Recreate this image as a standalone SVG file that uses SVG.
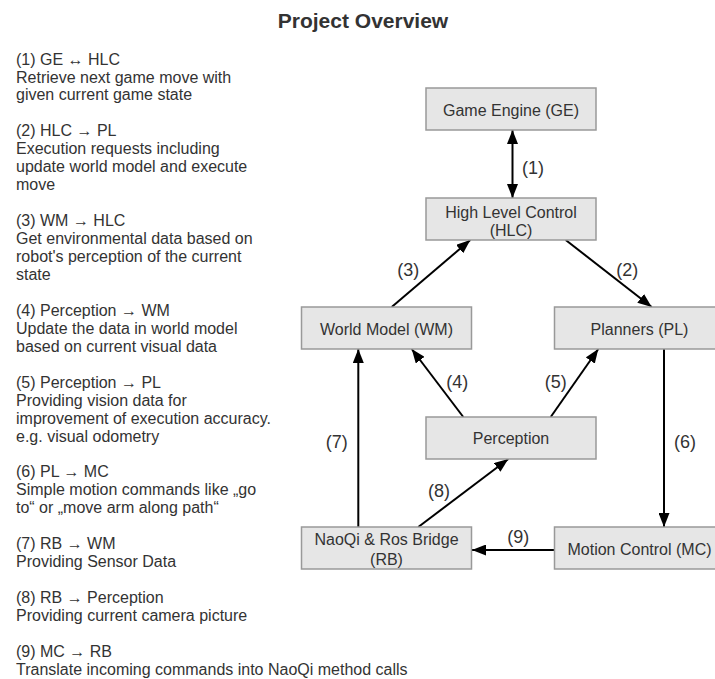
<svg xmlns="http://www.w3.org/2000/svg" width="715" height="679" viewBox="0 0 715 679">
  <style>
    text { font-family: "Liberation Sans", Arial, sans-serif; fill: #333333; }
    .title { font-size: 21px; font-weight: bold; text-anchor: middle; }
    .note { font-size: 16px; }
    .node rect { fill: #e6e6e6; stroke: #999999; stroke-width: 1.5; }
    .node text { font-size: 16px; text-anchor: middle; }
    .edge { stroke: #000000; stroke-width: 2; fill: none; }
    .elabel { font-size: 18px; text-anchor: middle; }
  </style>
  <defs>
    <marker id="head" markerUnits="userSpaceOnUse" markerWidth="14" markerHeight="11" refX="14" refY="5.5" orient="auto-start-reverse">
      <path d="M0,0 L14,5.5 L0,11 z" fill="#000000"/>
    </marker>
  </defs>

  <rect width="715" height="679" fill="#ffffff"/>

  <text class="title" x="363" y="28">Project Overview</text>

  <!-- legend of the numbered links -->
  <g id="legend" class="note">
    <text x="16" y="64.5">(1) GE ↔ HLC</text>
    <text x="16" y="82.5">Retrieve next game move with</text>
    <text x="16" y="100.4">given current game state</text>
    <text x="16" y="136.3">(2) HLC → PL</text>
    <text x="16" y="154.3">Execution requests including</text>
    <text x="16" y="172.2">update world model and execute</text>
    <text x="16" y="190.2">move</text>
    <text x="16" y="226.1">(3) WM → HLC</text>
    <text x="16" y="244">Get environmental data based on</text>
    <text x="16" y="262">robot's perception of the current</text>
    <text x="16" y="280">state</text>
    <text x="16" y="315.8">(4) Perception → WM</text>
    <text x="16" y="333.8">Update the data in world model</text>
    <text x="16" y="351.7">based on current visual data</text>
    <text x="16" y="387.6">(5) Perception → PL</text>
    <text x="16" y="405.6">Providing vision data for</text>
    <text x="16" y="423.5">improvement of execution accuracy.</text>
    <text x="16" y="441.5">e.g. visual odometry</text>
    <text x="16" y="477.4">(6) PL → MC</text>
    <text x="16" y="495.3">Simple motion commands like „go</text>
    <text x="16" y="513.3">to“ or „move arm along path“</text>
    <text x="16" y="549.2">(7) RB → WM</text>
    <text x="16" y="567.1">Providing Sensor Data</text>
    <text x="16" y="603">(8) RB → Perception</text>
    <text x="16" y="621">Providing current camera picture</text>
    <text x="16" y="656.9">(9) MC → RB</text>
    <text x="16" y="674.8">Translate incoming commands into NaoQi method calls</text>
  </g>

  <!-- connectors -->
  <g id="connectors">
    <line class="edge" x1="512.5" y1="130" x2="512.5" y2="198" marker-start="url(#head)" marker-end="url(#head)"/>
    <line class="edge" x1="565.7" y1="240" x2="651.7" y2="307" marker-end="url(#head)"/>
    <line class="edge" x1="391.7" y1="307" x2="470.3" y2="240" marker-end="url(#head)"/>
    <line class="edge" x1="463.3" y1="417" x2="411.7" y2="349" marker-end="url(#head)"/>
    <line class="edge" x1="550.7" y1="417" x2="598.3" y2="349" marker-end="url(#head)"/>
    <line class="edge" x1="664" y1="349" x2="664" y2="527" marker-end="url(#head)"/>
    <line class="edge" x1="358.3" y1="527" x2="358.3" y2="349" marker-end="url(#head)"/>
    <line class="edge" x1="418.3" y1="527" x2="508.3" y2="459" marker-end="url(#head)"/>
    <line class="edge" x1="554" y1="550" x2="472" y2="550" marker-end="url(#head)"/>
    <text class="elabel" x="533" y="173.5">(1)</text>
    <text class="elabel" x="627.3" y="275.5">(2)</text>
    <text class="elabel" x="408.3" y="275.5">(3)</text>
    <text class="elabel" x="457.3" y="388">(4)</text>
    <text class="elabel" x="555.7" y="388">(5)</text>
    <text class="elabel" x="685" y="447.5">(6)</text>
    <text class="elabel" x="336.7" y="447.5">(7)</text>
    <text class="elabel" x="439" y="496.5">(8)</text>
    <text class="elabel" x="518.3" y="543">(9)</text>
  </g>

  <!-- nodes -->
  <g id="ge" class="node">
    <rect x="426" y="88" width="170" height="42"/>
    <text x="511" y="115.5">Game Engine (GE)</text>
  </g>
  <g id="hlc" class="node">
    <rect x="426" y="198" width="170" height="42"/>
    <text x="511" y="217.5">High Level Control</text>
    <text x="511" y="235.5">(HLC)</text>
  </g>
  <g id="wm" class="node">
    <rect x="301.5" y="307" width="170" height="42"/>
    <text x="386.5" y="334.5">World Model (WM)</text>
  </g>
  <g id="pl" class="node">
    <rect x="554.5" y="307" width="170" height="42"/>
    <text x="639.5" y="334.5">Planners (PL)</text>
  </g>
  <g id="perception" class="node">
    <rect x="426" y="417" width="170" height="42"/>
    <text x="511" y="444">Perception</text>
  </g>
  <g id="rb" class="node">
    <rect x="301.5" y="527" width="170" height="42"/>
    <text x="386.5" y="545">NaoQi &amp; Ros Bridge</text>
    <text x="386.5" y="564.5">(RB)</text>
  </g>
  <g id="mc" class="node">
    <rect x="554.5" y="527" width="170" height="42"/>
    <text x="639.5" y="554.5">Motion Control (MC)</text>
  </g>
</svg>
